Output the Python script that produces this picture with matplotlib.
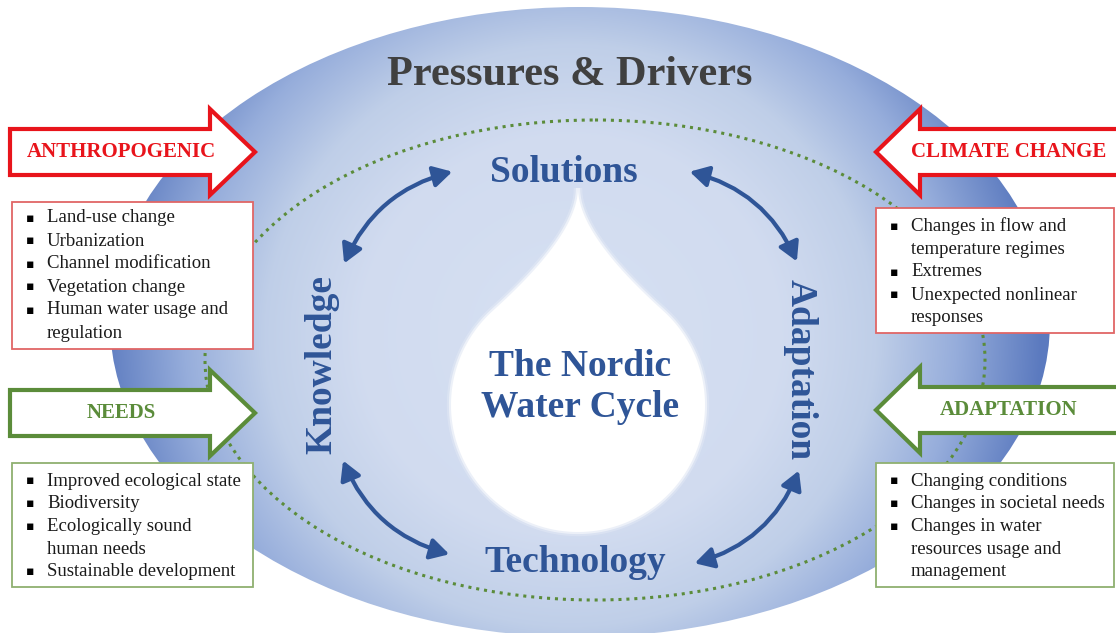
import numpy as np
import matplotlib
matplotlib.use("Agg")
import matplotlib.pyplot as plt
from matplotlib.patches import Ellipse, Polygon, Rectangle, FancyArrowPatch

# ---- text content ----
title = "Pressures & Drivers"
center_label = "The Nordic\nWater Cycle"
cycle_labels = ["Solutions", "Adaptation", "Technology", "Knowledge"]
arrow_labels = ["ANTHROPOGENIC", "CLIMATE CHANGE", "NEEDS", "ADAPTATION"]
anthro_items = ["Land-use change", "Urbanization", "Channel modification",
                "Vegetation change", "Human water usage and", "regulation"]
anthro_bullets = [True, True, True, True, True, False]
climate_items = ["Changes in flow and", "temperature regimes", "Extremes",
                 "Unexpected nonlinear", "responses"]
climate_bullets = [True, False, True, True, False]
needs_items = ["Improved ecological state", "Biodiversity", "Ecologically sound",
               "human needs", "Sustainable development"]
needs_bullets = [True, True, True, False, True]
adapt_items = ["Changing conditions", "Changes in societal needs", "Changes in water",
               "resources usage and", "management"]
adapt_bullets = [True, True, True, False, False]

W, H = 1116, 633
BLUE = "#2f5597"
RED = "#e8141b"
GREEN = "#5b8c3a"
SERIF = "Liberation Serif"

fig = plt.figure(figsize=(W / 100, H / 100), dpi=100)
ax = fig.add_axes([0, 0, 1, 1])
ax.set_xlim(0, W)
ax.set_ylim(H, 0)
ax.axis("off")

# big ellipse with radial gradient
ell = Ellipse((580, 322), 940, 630, facecolor="none", edgecolor="none")
ax.add_patch(ell)
yy, xx = np.mgrid[0:H, 0:W]
d = np.hypot(xx - 570, (yy - 335) * 1.05) / 470
stops = np.array([0.0, 0.45, 0.65, 0.82, 1.0])
cols = np.array([[0.84, 0.88, 0.95],
                 [0.82, 0.86, 0.94],
                 [0.75, 0.81, 0.91],
                 [0.59, 0.68, 0.86],
                 [0.36, 0.48, 0.75]])
img = np.zeros((H, W, 3))
for c in range(3):
    img[..., c] = np.interp(d, stops, cols[:, c])
im = ax.imshow(img, extent=(0, W, H, 0), zorder=1, interpolation="bilinear")
im.set_clip_path(ell)

# dotted green ellipse
ax.add_patch(Ellipse((595, 360), 780, 480, facecolor="none", edgecolor=GREEN,
                     linestyle=(0, (1, 1.6)), lw=2.2, zorder=2))

# drop shape
cx, cy, R = 578, 405, 127
tip = np.array([cx, 188.0])
th0 = np.deg2rad(132)
p3 = np.array([cx + R * np.cos(th0), cy - R * np.sin(th0)])
p1 = tip + np.array([0, 40])
p2 = p3 + 50 * np.array([np.sin(th0), np.cos(th0)])
t = np.linspace(0, 1, 60)[:, None]
left = (1 - t) ** 3 * tip + 3 * (1 - t) ** 2 * t * p1 + 3 * (1 - t) * t ** 2 * p2 + t ** 3 * p3
ths = np.linspace(th0, 2 * np.pi + np.pi - th0, 200)
arc = np.column_stack([cx + R * np.cos(ths), cy - R * np.sin(ths)])
right = left[::-1].copy()
right[:, 0] = 2 * cx - right[:, 0]
drop = np.vstack([left, arc[1:-1], right])
for lw, a in [(6, 0.2), (3, 0.5)]:
    ax.add_patch(Polygon(drop, closed=True, facecolor="none", edgecolor="white",
                         lw=lw, alpha=a, zorder=3))
ax.add_patch(Polygon(drop, closed=True, facecolor="white", edgecolor="none", zorder=3))

# texts
ax.text(570, 75, title, ha="center", va="center", fontsize=30.5, fontweight="bold",
        family=SERIF, color="#404040", zorder=5)
ax.text(564, 172, cycle_labels[0], ha="center", va="center", fontsize=27,
        fontweight="bold", family=SERIF, color=BLUE, zorder=5)
ax.text(800, 370, cycle_labels[1], ha="center", va="center", fontsize=27,
        fontweight="bold", family=SERIF, color=BLUE, rotation=-90, zorder=5)
ax.text(575, 562, cycle_labels[2], ha="center", va="center", fontsize=27,
        fontweight="bold", family=SERIF, color=BLUE, zorder=5)
ax.text(322, 365, cycle_labels[3], ha="center", va="center", fontsize=27,
        fontweight="bold", family=SERIF, color=BLUE, rotation=90, zorder=5)
ax.text(580, 387, center_label, ha="center", va="center", fontsize=27,
        fontweight="bold", family=SERIF, color=BLUE, linespacing=1.2, zorder=5)

# curved double arrows
for a, b, rad in [((343, 266), (455, 171), -0.25), ((687, 171), (798, 264), -0.25),
                  ((342, 458), (452, 555), 0.25), ((800, 468), (692, 564), -0.25)]:
    ax.add_patch(FancyArrowPatch(a, b, connectionstyle=f"arc3,rad={rad}",
                                 arrowstyle="<|-|>,head_length=0.8,head_width=0.45",
                                 mutation_scale=14, color=BLUE, lw=3, zorder=5))


def block_arrow(y, direction, color, label):
    half, head_half = 23, 43
    if direction > 0:
        x0, xb, xt = 10, 210, 255
    else:
        x0, xb, xt = 1125, 920, 876
    pts = [(x0, y - half), (xb, y - half), (xb, y - head_half), (xt, y),
           (xb, y + head_half), (xb, y + half), (x0, y + half)]
    ax.add_patch(Polygon(pts, closed=True, facecolor="white", edgecolor=color,
                         lw=3, joinstyle="miter", zorder=6))
    tx = 121 if direction > 0 else 1009
    ax.text(tx, y, label, ha="center", va="center", fontsize=15, fontweight="bold",
            family=SERIF, color=color, zorder=7)


block_arrow(152, 1, RED, arrow_labels[0])
block_arrow(152, -1, RED, arrow_labels[1])
block_arrow(413, 1, GREEN, arrow_labels[2])
block_arrow(410, -1, GREEN, arrow_labels[3])


def item_box(x0, y0, x1, y1, edge, items, bullets, ytop, step):
    ax.add_patch(Rectangle((x0, y0), x1 - x0, y1 - y0, facecolor="white",
                           edgecolor=edge, lw=1.3, zorder=6))
    for i, (s, b) in enumerate(zip(items, bullets)):
        y = ytop + i * step
        if b:
            ax.text(x0 + 18, y, "\u25aa", ha="center", va="center", fontsize=9,
                    family="DejaVu Sans", color="black", zorder=7)
        ax.text(x0 + 35, y, s, ha="left", va="center", fontsize=13.5,
                family=SERIF, color="#1a1a1a", zorder=7)


item_box(12, 202, 253, 349, "#e06666", anthro_items, anthro_bullets, 218, 23)
item_box(876, 208, 1114, 333, "#e06666", climate_items, climate_bullets, 226, 23)
item_box(12, 463, 253, 587, "#8fb070", needs_items, needs_bullets, 481, 22.7)
item_box(876, 463, 1114, 587, "#8fb070", adapt_items, adapt_bullets, 481, 22.7)

fig.savefig("out.png", dpi=100)
